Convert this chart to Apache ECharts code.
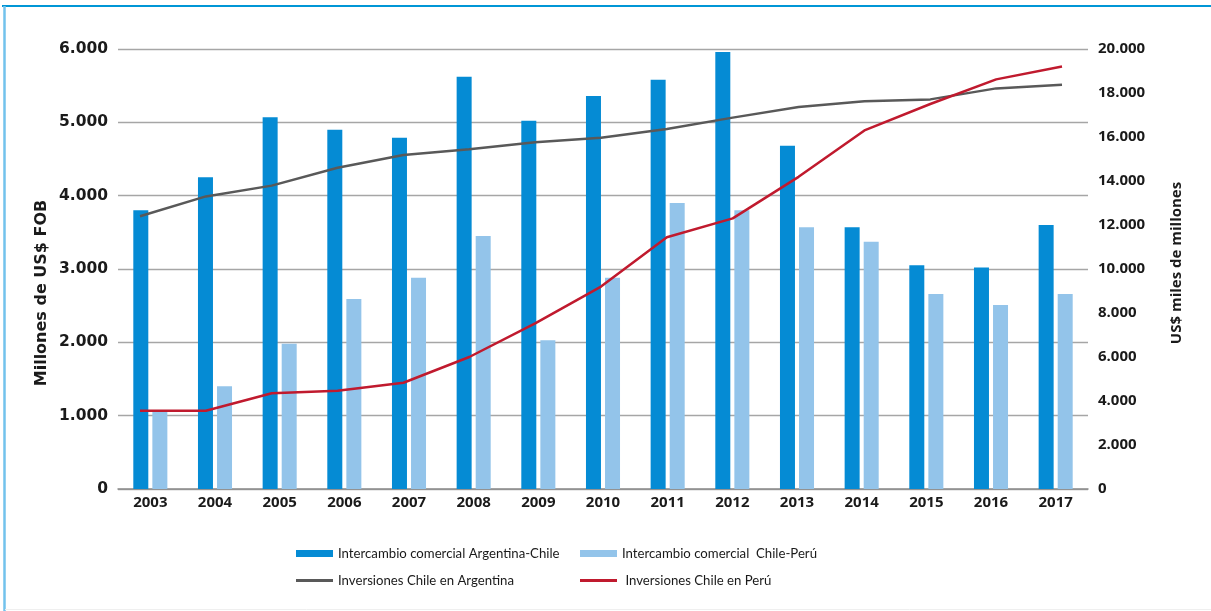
<!DOCTYPE html>
<html>
<head>
<meta charset="utf-8">
<script src="https://cdn.jsdelivr.net/npm/echarts@6/dist/echarts.min.js"></script>
<style>
  html, body { margin: 0; padding: 0; background: #ffffff; }
  #chart { width: 1211px; height: 611px; }
</style>
</head>
<body>
<div id="chart"></div>
<script>
const years = ['2003','2004','2005','2006','2007','2008','2009','2010','2011','2012','2013','2014','2015','2016','2017'];
const tradeArgChile = [3800, 4250, 5070, 4900, 4790, 5620, 5020, 5360, 5580, 5960, 4680, 3570, 3050, 3020, 3600];
const tradeChilePeru = [1060, 1400, 1980, 2590, 2880, 3450, 2030, 2880, 3900, 3800, 3570, 3370, 2660, 2510, 2660];
const invChileArg = [12400, 13300, 13790, 14600, 15180, 15440, 15760, 15970, 16360, 16880, 17360, 17620, 17710, 18210, 18380];
const invChilePeru = [3560, 3560, 4350, 4470, 4830, 6000, 7530, 9200, 11440, 12300, 14190, 16300, 17500, 18620, 19200];
const seriesNames = ['Intercambio comercial Argentina-Chile', 'Intercambio comercial  Chile-Perú', 'Inversiones Chile en Argentina', ' Inversiones Chile en Perú'];
const leftAxisName = 'Millones de US$ FOB';
const rightAxisName = 'US$ miles de millones';

const fmt = v => String(v).replace(/\B(?=(\d{3})+(?!\d))/g, '.');
const FONT = 'Open Sans';
const WIDE = 'DejaVu Sans';
const chart = echarts.init(document.getElementById('chart'), null, { renderer: 'canvas' });

const legendText = { fontFamily: 'Lato', fontSize: 13.2, color: '#1a1a1a' };
function leg(name, left, top, h) {
  return { data: [name], left: left, top: top, orient: 'horizontal', icon: 'rect',
           itemWidth: 37, itemHeight: h, itemGap: 0, padding: 0, textStyle: legendText,
           selectedMode: false };
}

chart.setOption({
  animation: false,
  backgroundColor: '#ffffff',
  textStyle: { fontFamily: FONT },
  grid: [
    { left: 118, right: 123, top: 49, bottom: 122, containLabel: false },
    { left: 140, right: 149, top: 49, bottom: 122, containLabel: false }
  ],
  legend: [
    leg(seriesNames[0], 296, 547, 7),
    leg(seriesNames[1], 580, 547, 7),
    leg(seriesNames[2], 296, 574, 3),
    leg(seriesNames[3], 580, 574, 3)
  ],
  xAxis: [
    { type: 'category', gridIndex: 0, data: years,
      axisLine: { lineStyle: { color: '#8c8c8c', width: 1.5 } },
      axisTick: { show: false },
      axisLabel: { color: '#1a1a1a', fontWeight: 'bold', fontSize: 15, margin: 6, fontFamily: FONT } },
    { type: 'category', gridIndex: 1, data: years, boundaryGap: false, show: false }
  ],
  yAxis: [
    { type: 'value', gridIndex: 0, min: 0, max: 6000, interval: 1000, position: 'left',
      axisLine: { show: false }, axisTick: { show: false },
      splitLine: { lineStyle: { color: '#a6a6a6', width: 1.3 } },
      axisLabel: { formatter: fmt, color: '#1a1a1a', fontWeight: 'bold', fontSize: 15.5, margin: 10, fontFamily: WIDE } },
    { type: 'value', gridIndex: 0, min: 0, max: 20000, interval: 2000, position: 'right',
      axisLine: { show: false }, axisTick: { show: false }, splitLine: { show: false },
      axisLabel: { formatter: fmt, color: '#1a1a1a', fontWeight: 'bold', fontSize: 15, margin: 10, fontFamily: FONT } },
    { type: 'value', gridIndex: 1, min: 0, max: 20000, show: false }
  ],
  series: [
    { name: seriesNames[0], type: 'bar', xAxisIndex: 0, yAxisIndex: 0, data: tradeArgChile,
      barWidth: 15, barGap: '27%', itemStyle: { color: '#058bd4' } },
    { name: seriesNames[1], type: 'bar', xAxisIndex: 0, yAxisIndex: 0, data: tradeChilePeru,
      barWidth: 15, barGap: '27%', itemStyle: { color: '#93c4ea' } },
    { name: seriesNames[2], type: 'line', xAxisIndex: 1, yAxisIndex: 2, data: invChileArg,
      symbol: 'none', itemStyle: { color: '#595959' }, lineStyle: { color: '#595959', width: 2.5 }, z: 3 },
    { name: seriesNames[3], type: 'line', xAxisIndex: 1, yAxisIndex: 2, data: invChilePeru,
      symbol: 'none', itemStyle: { color: '#c01a2e' }, lineStyle: { color: '#c01a2e', width: 2.5 }, z: 4 }
  ],
  graphic: [
    { type: 'line', shape: { x1: 2, y1: 6, x2: 1211, y2: 6 }, style: { stroke: '#0096d6', lineWidth: 2 }, silent: true },
    { type: 'line', shape: { x1: 4.5, y1: 6, x2: 4.5, y2: 611 }, style: { stroke: '#72c2ec', lineWidth: 2.5 }, silent: true },
    { type: 'line', shape: { x1: 5, y1: 609.5, x2: 1211, y2: 609.5 }, style: { stroke: '#efefef', lineWidth: 1 }, silent: true },
    { type: 'text', x: 42, y: 293, rotation: Math.PI / 2,
      style: { text: leftAxisName, fontFamily: WIDE, fontWeight: 'bold', fontSize: 16, fill: '#1a1a1a', align: 'center', verticalAlign: 'middle' } },
    { type: 'text', x: 1177, y: 263, rotation: Math.PI / 2,
      style: { text: rightAxisName, fontFamily: FONT, fontWeight: 'bold', fontSize: 15, fill: '#1a1a1a', align: 'center', verticalAlign: 'middle' } }
  ]
});
</script>
</body>
</html>
